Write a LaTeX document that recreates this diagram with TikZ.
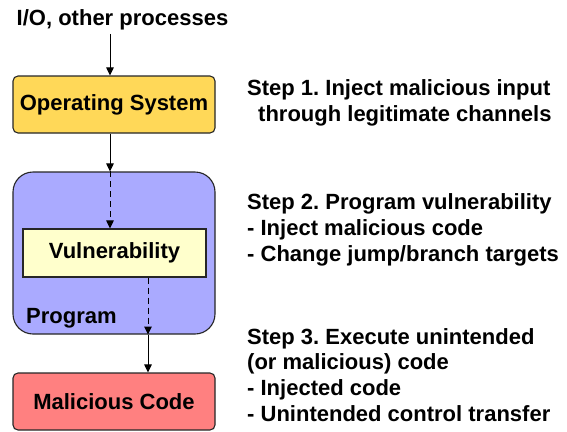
\documentclass[tikz,border=0pt]{standalone}
\usepackage{fontspec}
\setmainfont{Liberation Sans}
\usetikzlibrary{arrows.meta,calc}
\frenchspacing
\begin{document}
\begin{tikzpicture}[x=1pt,y=-1pt,
  txt/.style={font=\fontsize{22}{25.8}\selectfont\bfseries\frenchspacing, inner sep=0pt},
  box/.style={draw=black!85, line width=1.1pt, txt, minimum width=202pt, minimum height=57pt},
  arr/.style={line width=1pt, -{Triangle[length=8pt,width=7.5pt]}},
  darr/.style={arr, dash pattern=on 6pt off 4pt}
]
\useasboundingbox (0,0) rectangle (567,431);
\node[txt] (io) at (122.5,19.5) {I/O, other processes};
\node[box, rounded corners=5pt, fill={rgb,255:red,255;green,216;blue,88}] (os) at (114,104.5) {Operating System};
\node[box, rounded corners=20pt, fill={rgb,255:red,170;green,170;blue,255}, minimum height=162pt] (prog) at (114,253) {};
\node[box, fill={rgb,255:red,255;green,255;blue,204}, minimum width=183pt, minimum height=48pt] (vul) at (114.5,253) {Vulnerability};
\node[txt, anchor=west] (plabel) at (26,318) {Program};
\node[box, rounded corners=5pt, fill={rgb,255:red,255;green,128;blue,128}] (mal) at (114,401.5) {Malicious Code};

\coordinate (a1) at (io.south -| 110,0);
\coordinate (a2) at (os.north -| 110,0);
\coordinate (a3) at (os.south -| 110,0);
\coordinate (a4) at (prog.north -| 110,0);
\coordinate (a5) at (vul.north -| 110,0);
\coordinate (b1) at (vul.south -| 148,0);
\coordinate (b2) at (prog.south -| 148,0);
\coordinate (b3) at (mal.north -| 148,0);
\draw[arr] ($(a1)+(0,4)$) -- (a2);
\draw[arr] (a3) -- (a4);
\draw[darr] (a4) -- (a5);
\draw[darr] (b1) -- (b2);
\draw[arr] (b2) -- (b3);

\node[txt, anchor=west, align=left] (s1) at (247,102.5) {Step 1. Inject malicious input\\\hspace*{11pt}through legitimate channels};
\node[txt, anchor=west, align=left] (s2) at (247,230) {Step 2. Program vulnerability\\- Inject malicious code\\- Change jump/branch targets};
\node[txt, anchor=west, align=left] (s3) at (247,375) {Step 3. Execute unintended\\(or malicious) code\\- Injected code\\- Unintended control transfer};
\end{tikzpicture}
\end{document}
